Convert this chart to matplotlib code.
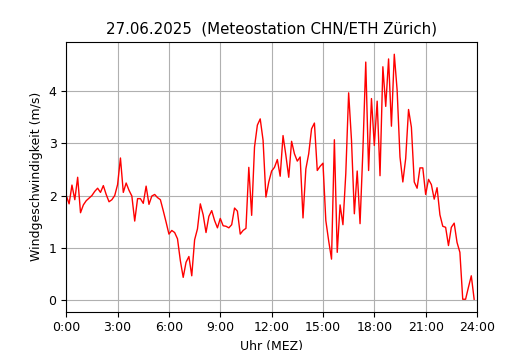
import numpy as np
import matplotlib
matplotlib.use('Agg')
from matplotlib import pyplot as plt

plt.rcParams['font.size'] = 9

# Windgeschwindigkeit in m/s, 10-Minuten-Werte ab 0:00
wind_ms = [
    2.0, 1.84, 2.2, 1.92, 2.35, 1.67, 1.82, 1.9, 1.95, 2.0, 2.08, 2.14,
    2.06, 2.19, 2.02, 1.88, 1.92, 2.0, 2.21, 2.72, 2.06, 2.24, 2.10, 1.99,
    1.51, 1.94, 1.94, 1.85, 2.18, 1.83, 1.99, 2.02, 1.96, 1.92, 1.71, 1.49,
    1.26, 1.33, 1.29, 1.17, 0.75, 0.43, 0.72, 0.83, 0.46, 1.15, 1.36, 1.84,
    1.63, 1.29, 1.6, 1.71, 1.52, 1.38, 1.56, 1.42, 1.41, 1.38, 1.44, 1.76,
    1.70, 1.26, 1.33, 1.37, 2.54, 1.62, 2.93, 3.35, 3.47, 3.06, 1.97, 2.26,
    2.47, 2.54, 2.69, 2.37, 3.15, 2.77, 2.35, 3.04, 2.8, 2.66, 2.74, 1.57,
    2.51, 2.8, 3.28, 3.39, 2.48, 2.56, 2.62, 1.52, 1.13, 0.78, 3.07, 0.91,
    1.82, 1.44, 2.42, 3.97, 3.06, 1.65, 2.47, 1.46, 2.87, 4.56, 2.48, 3.86,
    2.96, 3.81, 2.38, 4.47, 3.71, 4.62, 3.33, 4.71, 4.02, 2.74, 2.26, 2.71,
    3.65, 3.31, 2.26, 2.14, 2.53, 2.53, 2.02, 2.31, 2.21, 1.93, 2.15, 1.63,
    1.41, 1.39, 1.04, 1.39, 1.47, 1.10, 0.91, 0.01, 0.01, 0.24, 0.46, 0.01,
]
stunden = np.arange(len(wind_ms)) * 10 / 60

tick_pos = [0, 3, 6, 9, 12, 15, 18, 21, 24]
tick_labels = ['0:00', '3:00', '6:00', '9:00', '12:00', '15:00', '18:00', '21:00', '24:00']

fig, ax = plt.subplots(figsize=(5.3, 3.5), dpi=100)
ax.plot(stunden, wind_ms, color='red', linewidth=1)

ax.set_xlim(0, 24)
ax.set_xticks(tick_pos)
ax.set_xticklabels(tick_labels)
ax.grid(True)

ax.set_title('27.06.2025  (Meteostation CHN/ETH Zürich)')
ax.set_xlabel('Uhr (MEZ)')
ax.set_ylabel('Windgeschwindigkeit (m/s)')

fig.savefig('out.png', dpi=100)
